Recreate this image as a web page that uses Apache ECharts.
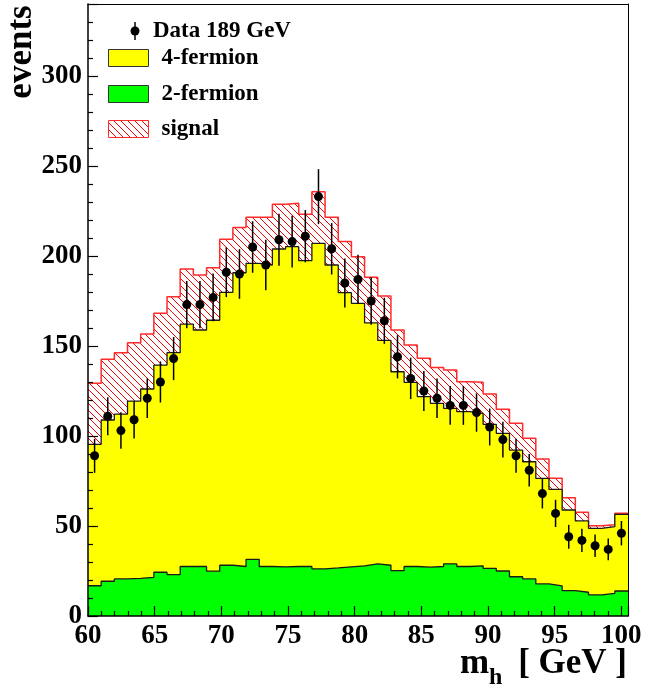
<!DOCTYPE html>
<html>
<head>
<meta charset="utf-8">
<script src="https://cdn.jsdelivr.net/npm/echarts@6/dist/echarts.min.js"></script>
<style>
  html, body { margin: 0; padding: 0; background: #fff; }
  #main { width: 645px; height: 690px; }
</style>
</head>
<body>
<div id="main"></div>
<script>
// histogram range, 41 bins
var xMin = 60, xMax = 100.5;
var yMin = 0, yMax = 340;
var xInterval = 5, yInterval = 50;

// observed events per bin
var dataCounts = [89, 111, 103, 109, 121, 130, 143, 173, 173, 177, 191, 190, 205, 195, 209, 208, 211, 233, 204, 185,
  187, 175, 164, 144, 132, 125, 121, 117, 117, 113, 105, 98, 89, 81, 68, 57, 44, 42, 39, 37, 46];
// 2-fermion background
var twoFermion = [16.8, 19.3, 20.6, 20.9, 21.5, 24.3, 23.0, 27.5, 27.5, 24.9, 28.2, 27.5, 31.5, 27.5, 27.3, 27.5, 27.5, 26.2, 26.7, 27.3,
  27.9, 29.0, 28.2, 25.2, 27.5, 27.1, 27.5, 29.0, 27.5, 27.9, 26.5, 25.0, 21.8, 20.6, 17.8, 16.7, 14.1, 13.2, 11.7, 12.6, 13.9];
// 4-fermion background (stacked on top of 2-fermion)
var fourFermion = [78.6, 89.6, 91.6, 98.5, 104.6, 115.1, 123.3, 134.6, 131.4, 139.4, 151.6, 163.2, 164.4, 167.5, 176.6, 177.7, 169.9, 180.8, 168.3, 152.3,
  145.8, 133.8, 124.9, 110.5, 102.3, 94.8, 90.6, 86.4, 86.0, 84.7, 80.0, 76.5, 70.4, 65.1, 58.7, 53.7, 44.8, 39.6, 37.0, 37.0, 42.6];
// signal (stacked on top of total background)
var signal = [33.9, 33.7, 34.1, 32.4, 30.6, 28.8, 31.1, 30.7, 30.5, 29.2, 29.5, 25.2, 25.6, 26.5, 24.8, 24.1, 25.8, 28.7, 26.5, 28.4,
  25.9, 25.4, 24.7, 23.2, 20.8, 21.3, 20.0, 21.3, 16.7, 17.2, 16.8, 13.3, 14.9, 13.0, 10.7, 6.1, 6.8, 4.8, 1.5, 1.1, 0.6];

var FONT = 'Liberation Serif';
var nBins = dataCounts.length;
var binW = (xMax - xMin) / nBins;

// cumulative levels
var lvlGreen = twoFermion.slice();
var lvlYellow = twoFermion.map(function (v, i) { return v + fourFermion[i]; });
var lvlSignal = lvlYellow.map(function (v, i) { return v + signal[i]; });

// step outline points at bin edges
function stepPoints(levels) {
  var pts = levels.map(function (v, i) { return [xMin + i * binW, v]; });
  pts.push([xMin + nBins * binW, levels[nBins - 1]]);
  return pts;
}

var dataPoints = dataCounts.map(function (n, i) { return [xMin + (i + 0.5) * binW, n]; });

// red hatch pattern
var hatch = document.createElement('canvas');
hatch.width = 7; hatch.height = 7;
var hctx = hatch.getContext('2d');
hctx.strokeStyle = '#ff0000';
hctx.lineWidth = 1;
hctx.beginPath();
hctx.moveTo(-1, -1); hctx.lineTo(8, 8);
hctx.moveTo(-1, 6); hctx.lineTo(2, 9);
hctx.moveTo(6, -1); hctx.lineTo(9, 2);
hctx.stroke();
var hatchFill = { image: hatch, repeat: 'repeat' };

var labelStyle = { fontFamily: FONT, fontWeight: 'bold', fontSize: 27, color: '#000' };

var chart = echarts.init(document.getElementById('main'));
chart.setOption({
  animation: false,
  backgroundColor: '#fff',
  grid: { left: 88, right: 17, top: 4, bottom: 74 },
  xAxis: [{
    type: 'value', min: xMin, max: xMax, interval: xInterval, z: 10,
    axisLine: { show: true, onZero: false, lineStyle: { color: '#000', width: 1.5 } },
    axisTick: { show: true, inside: true, length: 10, lineStyle: { color: '#000', width: 1.2 } },
    minorTick: { show: true, splitNumber: 5, length: 5, lineStyle: { color: '#000', width: 1.2 } },
    splitLine: { show: false },
    axisLabel: Object.assign({ margin: 7, showMaxLabel: false }, labelStyle)
  }, {
    type: 'value', position: 'top', min: xMin, max: xMax, z: 10,
    axisLine: { show: true, onZero: false, lineStyle: { color: '#000', width: 1 } },
    axisTick: { show: false }, axisLabel: { show: false }, splitLine: { show: false }
  }],
  yAxis: [{
    type: 'value', min: yMin, max: yMax, interval: yInterval, z: 10,
    axisLine: { show: true, onZero: false, lineStyle: { color: '#000', width: 1.5 } },
    axisTick: { show: true, inside: true, length: 10, lineStyle: { color: '#000', width: 1.2 } },
    minorTick: { show: true, splitNumber: 5, length: 5, lineStyle: { color: '#000', width: 1.2 } },
    splitLine: { show: false },
    axisLabel: Object.assign({ margin: 6, showMaxLabel: false }, labelStyle)
  }, {
    type: 'value', position: 'right', min: yMin, max: yMax, z: 10,
    axisLine: { show: true, onZero: false, lineStyle: { color: '#000', width: 1 } },
    axisTick: { show: false }, axisLabel: { show: false }, splitLine: { show: false }
  }],
  series: [
    {
      name: 'signal', type: 'line', step: 'end', data: stepPoints(lvlSignal), z: 1,
      symbol: 'none', lineStyle: { color: '#ff2a2a', width: 1.5 },
      areaStyle: { color: hatchFill, opacity: 1 }
    },
    {
      name: '4-fermion', type: 'line', step: 'end', data: stepPoints(lvlYellow), z: 2,
      symbol: 'none', lineStyle: { color: '#1a1a1a', width: 1.3 },
      areaStyle: { color: '#ffff00', opacity: 1 }
    },
    {
      name: '2-fermion', type: 'line', step: 'end', data: stepPoints(lvlGreen), z: 3,
      symbol: 'none', lineStyle: { color: '#1a1a1a', width: 1.3 },
      areaStyle: { color: '#00ff00', opacity: 1 }
    },
    {
      name: 'errors', type: 'custom', z: 5, data: dataPoints,
      renderItem: function (params, api) {
        var x = api.value(0), n = api.value(1), e = Math.sqrt(n);
        var a = api.coord([x, n - e]), b = api.coord([x, n + e]);
        return { type: 'line', shape: { x1: a[0], y1: a[1], x2: b[0], y2: b[1] },
          style: { stroke: '#000', lineWidth: 1.5 } };
      }
    },
    {
      name: 'Data 189 GeV', type: 'scatter', z: 6, data: dataPoints,
      symbol: 'circle', symbolSize: 9, itemStyle: { color: '#000', opacity: 1 }
    }
  ],
  graphic: [
    // legend
    { type: 'line', shape: { x1: 135, y1: 22, x2: 135, y2: 40 }, style: { stroke: '#000', lineWidth: 1.5 }, z: 20 },
    { type: 'circle', shape: { cx: 135, cy: 31, r: 4.5 }, style: { fill: '#000' }, z: 20 },
    { type: 'text', x: 153, y: 31, z: 20, style: { text: 'Data 189 GeV', font: 'bold 23px ' + FONT, fill: '#000', verticalAlign: 'middle' } },
    { type: 'rect', shape: { x: 108.5, y: 49.5, width: 40, height: 17 }, style: { fill: '#ffff00', stroke: '#333', lineWidth: 1 }, z: 20 },
    { type: 'text', x: 161.5, y: 58, z: 20, style: { text: '4-fermion', font: 'bold 23px ' + FONT, fill: '#000', verticalAlign: 'middle' } },
    { type: 'rect', shape: { x: 108.5, y: 85.5, width: 40, height: 17 }, style: { fill: '#00ff00', stroke: '#333', lineWidth: 1 }, z: 20 },
    { type: 'text', x: 161.5, y: 94, z: 20, style: { text: '2-fermion', font: 'bold 23px ' + FONT, fill: '#000', verticalAlign: 'middle' } },
    { type: 'rect', shape: { x: 108.5, y: 120.5, width: 40, height: 17 }, style: { fill: hatchFill, stroke: '#ff2a2a', lineWidth: 1 }, z: 20 },
    { type: 'text', x: 161.5, y: 129, z: 20, style: { text: 'signal', font: 'bold 23px ' + FONT, fill: '#000', verticalAlign: 'middle' } },
    // axis titles
    { type: 'text', x: 22, y: 52, rotation: Math.PI / 2, z: 20,
      style: { text: 'events', font: 'bold 35px ' + FONT, fill: '#000', align: 'center', verticalAlign: 'middle' } },
    { type: 'text', x: 460, y: 664, z: 20, style: { text: 'm', font: 'bold 35px ' + FONT, fill: '#000', verticalAlign: 'middle' } },
    { type: 'text', x: 489, y: 678, z: 20, style: { text: 'h', font: 'bold 24px ' + FONT, fill: '#000', verticalAlign: 'middle' } },
    { type: 'text', x: 627, y: 664, z: 20, style: { text: '[ GeV ]', font: 'bold 35px ' + FONT, fill: '#000', align: 'right', verticalAlign: 'middle' } }
  ]
});
</script>
</body>
</html>
